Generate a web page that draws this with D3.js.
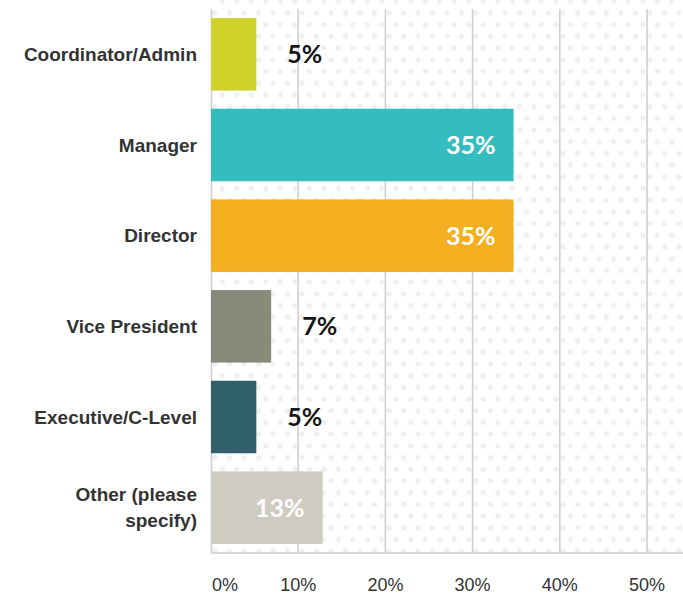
<!DOCTYPE html>
<html>
<head>
<meta charset="utf-8">
<script src="https://cdn.jsdelivr.net/npm/d3@7"></script>
<style>
  body { margin: 0; background: #fff; }
  svg { display: block; }
</style>
</head>
<body>
<div id="chart"></div>
<script>
// chart data
const categories = ['Coordinator/Admin', 'Manager', 'Director', 'Vice President', 'Executive/C-Level', 'Other (please specify)'];
const labelLines = [['Coordinator/Admin'], ['Manager'], ['Director'], ['Vice President'], ['Executive/C-Level'], ['Other (please', 'specify)']];
const values = [5.2, 34.7, 34.7, 6.9, 5.2, 12.8];
const valueLabels = ['5%', '35%', '35%', '7%', '5%', '13%'];
const barColors = ['#cfd22b', '#34bdbe', '#f4af21', '#8a8a7b', '#2f606b', '#cecbc0'];
const inside = [false, true, true, false, false, true];
const ticks = [0, 10, 20, 30, 40, 50];

const w = 683;
const h = 594;
const margin = { top: 9, right: 0, bottom: 41, left: 211 };
const width = w - margin.left - margin.right;
const height = h - margin.top - margin.bottom;

const svg = d3.select('#chart')
  .append('svg')
  .attr('width', w)
  .attr('height', h);

// dotted background pattern
const pat = svg.append('defs').append('pattern')
  .attr('id', 'dots')
  .attr('patternUnits', 'userSpaceOnUse')
  .attr('x', 11.3)
  .attr('y', 15.7)
  .attr('width', 14.5)
  .attr('height', 23.4);
[[0, 0], [14.5, 0], [0, 23.4], [14.5, 23.4], [7.25, 11.7]].forEach(p => {
  pat.append('circle')
    .attr('cx', p[0])
    .attr('cy', p[1])
    .attr('r', 2.6)
    .attr('fill', '#efefef');
});

const g = svg.append('g')
  .attr('transform', `translate(${margin.left},${margin.top})`);

const x = d3.scaleLinear()
  .domain([0, 50])
  .range([0, 436]);

const y = d3.scaleBand()
  .domain(categories)
  .range([0, height])
  .paddingInner(0.2)
  .paddingOuter(0.1);

g.append('rect')
  .attr('x', 0)
  .attr('y', -margin.top)
  .attr('width', width)
  .attr('height', height + margin.top)
  .attr('fill', 'url(#dots)');

// gridlines
g.selectAll('.grid')
  .data(ticks)
  .enter()
  .append('line')
  .attr('class', 'grid')
  .attr('x1', d => x(d) + (d === 0 ? 0.5 : 0))
  .attr('x2', d => x(d) + (d === 0 ? 0.5 : 0))
  .attr('y1', 0)
  .attr('y2', height)
  .attr('stroke', '#cfcfcf')
  .attr('stroke-width', 1.6);

g.append('line')
  .attr('x1', 0)
  .attr('x2', width)
  .attr('y1', height)
  .attr('y2', height)
  .attr('stroke', '#d6d6d6')
  .attr('stroke-width', 2);

// bars
g.selectAll('.bar')
  .data(values)
  .enter()
  .append('rect')
  .attr('class', 'bar')
  .attr('x', 0)
  .attr('y', (d, i) => y(categories[i]))
  .attr('width', d => x(d))
  .attr('height', y.bandwidth())
  .attr('fill', (d, i) => barColors[i]);

// value labels
g.selectAll('.val')
  .data(values)
  .enter()
  .append('text')
  .attr('class', 'val')
  .attr('x', (d, i) => inside[i] ? x(d) - 18 : x(d) + 31)
  .attr('y', (d, i) => y(categories[i]) + y.bandwidth() / 2)
  .attr('dy', '0.36em')
  .attr('text-anchor', (d, i) => inside[i] ? 'end' : 'start')
  .style('font-family', 'Lato, sans-serif')
  .style('font-weight', 'bold')
  .style('font-size', '25px')
  .attr('fill', (d, i) => inside[i] ? '#ffffff' : '#151515')
  .text((d, i) => valueLabels[i]);

// category labels
const cat = g.selectAll('.cat')
  .data(labelLines)
  .enter()
  .append('text')
  .attr('class', 'cat')
  .attr('text-anchor', 'end')
  .style('font-family', '"Liberation Sans", Arial, sans-serif')
  .style('font-weight', 'bold')
  .style('font-size', '19px')
  .attr('fill', '#333333');

cat.each(function(lines, i) {
  const cy = y(categories[i]) + y.bandwidth() / 2;
  const t = d3.select(this);
  lines.forEach((ln, j) => {
    t.append('tspan')
      .attr('x', -14)
      .attr('y', cy + (j - (lines.length - 1) / 2) * 26)
      .attr('dy', '0.35em')
      .text(ln);
  });
});

// x tick labels
g.selectAll('.tick-label')
  .data(ticks)
  .enter()
  .append('text')
  .attr('class', 'tick-label')
  .attr('x', d => d === 0 ? x(d) + 1 : x(d))
  .attr('y', height + 38)
  .attr('text-anchor', d => d === 0 ? 'start' : 'middle')
  .style('font-family', '"Liberation Sans", Arial, sans-serif')
  .style('font-size', '18px')
  .attr('fill', '#333333')
  .text(d => d + '%');
</script>
</body>
</html>
